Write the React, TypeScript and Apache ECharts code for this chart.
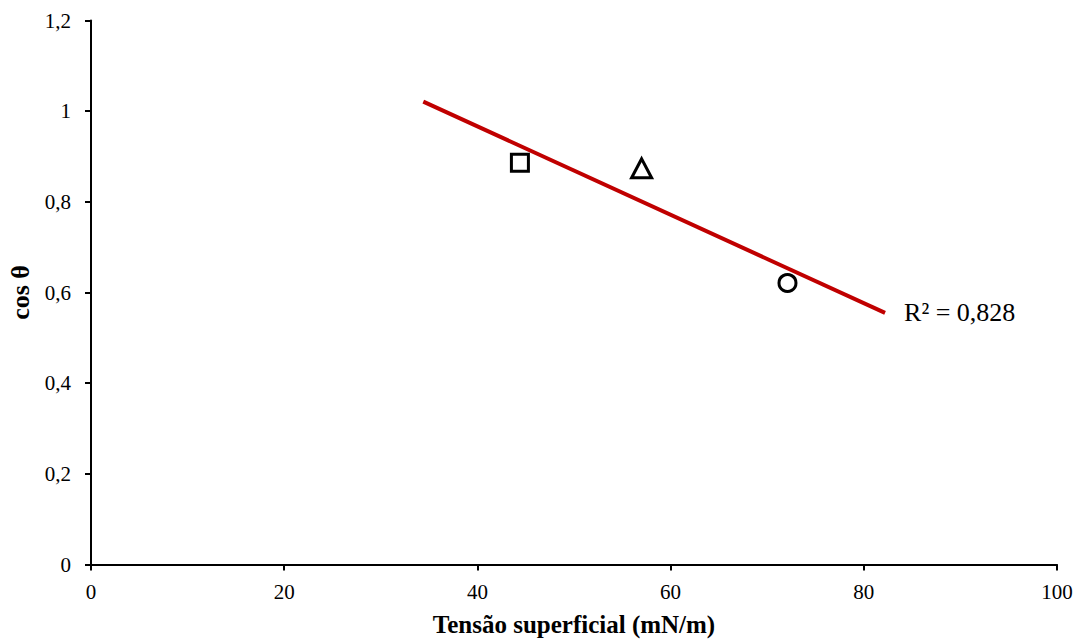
import React, { useEffect, useRef } from "react";
import * as echarts from "echarts";

const squarePoint: [number, number][] = [[44.4, 0.886]];
const trianglePoint: [number, number][] = [[57.0, 0.874]];
const circlePoint: [number, number][] = [[72.1, 0.621]];
const trendLine: [number, number][] = [
  [34.4, 1.021],
  [82.2, 0.555],
];
const r2Label = "R² = 0,828";
const xName = "Tensão superficial (mN/m)";
const yName = "cos θ";

const FONT = "Liberation Serif";

export default function App() {
  const ref = useRef<HTMLDivElement>(null);
  useEffect(() => {
    if (!ref.current) return;
    const chart = echarts.init(ref.current, undefined, { renderer: "svg" });
    const markerStyle = { color: "#ffffff", borderColor: "#000000", borderWidth: 3, opacity: 1 };
    chart.setOption({
      animation: false,
      backgroundColor: "#ffffff",
      textStyle: { fontFamily: FONT },
      grid: {
        left: 91,
        right: 21,
        top: 20.5,
        bottom: 76.5,
        containLabel: false,
        outerBoundsMode: "none",
      },
      xAxis: {
        type: "value",
        min: 0,
        max: 100,
        interval: 20,
        name: xName,
        nameLocation: "middle",
        nameGap: 47,
        nameTextStyle: { fontFamily: FONT, fontSize: 25, fontWeight: "bold", color: "#000" },
        axisLine: { show: true, lineStyle: { color: "#000", width: 2 } },
        axisTick: { show: true, inside: false, length: 6, lineStyle: { color: "#000", width: 2 } },
        axisLabel: { fontFamily: FONT, fontSize: 21, color: "#000", margin: 17 },
        splitLine: { show: false },
      },
      yAxis: {
        type: "value",
        min: 0,
        max: 1.2,
        interval: 0.2,
        name: yName,
        nameLocation: "middle",
        nameGap: 57,
        nameTextStyle: { fontFamily: FONT, fontSize: 26, fontWeight: "bold", color: "#000" },
        axisLine: { show: true, lineStyle: { color: "#000", width: 2 } },
        axisTick: { show: true, inside: false, length: 6, lineStyle: { color: "#000", width: 2 } },
        axisLabel: {
          fontFamily: FONT,
          fontSize: 21,
          color: "#000",
          margin: 20,
          formatter: (v: number) => String(+v.toFixed(1)).replace(".", ","),
        },
        splitLine: { show: false },
      },
      series: [
        {
          type: "line",
          data: trendLine,
          symbol: "none",
          lineStyle: { color: "#C00000", width: 4 },
          itemStyle: { color: "#C00000" },
          endLabel: {
            show: true,
            formatter: r2Label,
            distance: 19,
            fontFamily: FONT,
            fontSize: 26,
            color: "#000",
          },
          z: 2,
        },
        {
          type: "scatter",
          data: squarePoint,
          symbol: "rect",
          symbolSize: 17,
          itemStyle: markerStyle,
          z: 3,
        },
        {
          type: "scatter",
          data: trianglePoint,
          symbol: "triangle",
          symbolSize: [20, 19],
          itemStyle: markerStyle,
          z: 3,
        },
        {
          type: "scatter",
          data: circlePoint,
          symbol: "circle",
          symbolSize: 17,
          itemStyle: markerStyle,
          z: 3,
        },
      ],
    });
    return () => chart.dispose();
  }, []);
  return (
    <div
      ref={ref}
      style={{ position: "fixed", left: 0, top: 0, width: 1078, height: 641, background: "#fff" }}
    />
  );
}
